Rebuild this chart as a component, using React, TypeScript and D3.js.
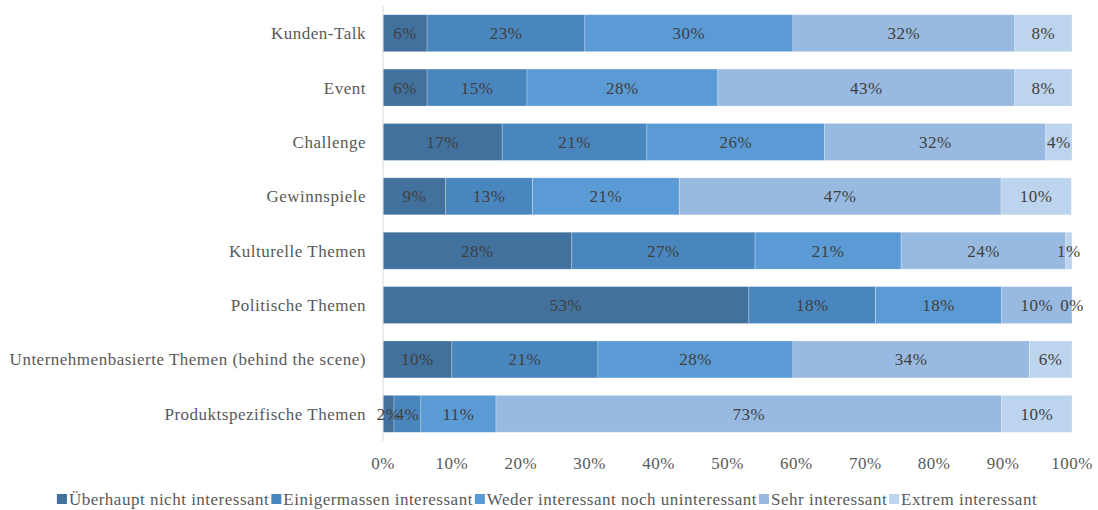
import React, { useEffect, useRef } from "react";
import * as d3 from "d3";

const categories = [
  "Kunden-Talk",
  "Event",
  "Challenge",
  "Gewinnspiele",
  "Kulturelle Themen",
  "Politische Themen",
  "Unternehmenbasierte Themen (behind the scene)",
  "Produktspezifische Themen",
];

const seriesNames = [
  "Überhaupt nicht interessant",
  "Einigermassen interessant",
  "Weder interessant noch uninteressant",
  "Sehr interessant",
  "Extrem interessant",
];

const ueberhauptNicht = [6.4, 6.4, 17.3, 9.1, 27.4, 53.1, 10.0, 1.6];
const einigermassen = [22.9, 14.5, 21.0, 12.6, 26.6, 18.4, 21.2, 3.9];
const weder = [30.2, 27.7, 25.8, 21.3, 21.2, 18.3, 28.3, 10.9];
const sehr = [32.2, 43.1, 32.1, 46.7, 23.9, 10.2, 34.3, 73.4];
const extrem = [8.3, 8.3, 3.8, 10.2, 0.9, 0.0, 6.2, 10.2];

const labelsUeberhaupt = ["6%", "6%", "17%", "9%", "28%", "53%", "10%", "2%"];
const labelsEinigermassen = ["23%", "15%", "21%", "13%", "27%", "18%", "21%", "4%"];
const labelsWeder = ["30%", "28%", "26%", "21%", "21%", "18%", "28%", "11%"];
const labelsSehr = ["32%", "43%", "32%", "47%", "24%", "10%", "34%", "73%"];
const labelsExtrem = ["8%", "8%", "4%", "10%", "1%", "0%", "6%", "10%"];

const tickValues = [0, 10, 20, 30, 40, 50, 60, 70, 80, 90, 100];

const colors = ["#41719C", "#4A86BE", "#5B9BD5", "#98BAE0", "#BDD4EE"];

export default function App() {
  const ref = useRef<SVGSVGElement>(null);

  useEffect(() => {
    const svg = d3.select(ref.current);
    svg.selectAll("*").remove();
    const left = 383, right = 1072, top = 6, bottom = 441;
    const font = "'Liberation Serif', 'Times New Roman', serif";
    const textColor = "#595959";
    const fs = 17;
    const ls = 0.5;

    const seriesValues = [ueberhauptNicht, einigermassen, weder, sehr, extrem];
    const seriesLabels = [labelsUeberhaupt, labelsEinigermassen, labelsWeder, labelsSehr, labelsExtrem];

    const x = d3.scaleLinear().domain([0, 100]).range([left, right]);
    const y = d3.scaleBand<string>().domain(categories).range([top, bottom]).paddingInner(0.32).paddingOuter(0.16);

    const table = categories.map((c, i) => {
      const row: any = { cat: c };
      seriesNames.forEach((s, j) => (row[s] = seriesValues[j][i]));
      return row;
    });
    const stacked = d3.stack<any>().keys(seriesNames)(table);

    const g = svg.append("g");
    stacked.forEach((layer, j) => {
      g.append("g")
        .selectAll("rect")
        .data(layer)
        .join("rect")
        .attr("x", (d) => x(d[0]))
        .attr("y", (d: any) => y(d.data.cat)!)
        .attr("width", (d) => Math.max(0, x(d[1]) - x(d[0])))
        .attr("height", y.bandwidth())
        .attr("fill", colors[j])
        .attr("stroke", "rgba(255,255,255,0.35)")
        .attr("stroke-width", 0.75);
    });

    g.append("line")
      .attr("x1", left).attr("x2", left)
      .attr("y1", top).attr("y2", bottom)
      .attr("stroke", "#D9D9D9").attr("stroke-width", 1);

    stacked.forEach((layer, j) => {
      g.append("g")
        .selectAll("text")
        .data(layer)
        .join("text")
        .attr("x", (d) => (x(d[0]) + x(d[1])) / 2)
        .attr("y", (d: any) => y(d.data.cat)! + y.bandwidth() / 2)
        .attr("dy", "0.35em")
        .attr("text-anchor", "middle")
        .attr("font-family", font)
        .attr("font-size", fs)
        .attr("letter-spacing", ls)
        .attr("fill", "#404040")
        .text((d, i) => seriesLabels[j][i]);
    });

    g.append("g")
      .selectAll("text")
      .data(categories)
      .join("text")
      .attr("x", left - 17)
      .attr("y", (d) => y(d)! + y.bandwidth() / 2)
      .attr("dy", "0.35em")
      .attr("text-anchor", "end")
      .attr("font-family", font)
      .attr("font-size", fs)
      .attr("letter-spacing", ls)
      .attr("fill", textColor)
      .text((d) => d);

    g.append("g")
      .selectAll("text")
      .data(tickValues)
      .join("text")
      .attr("x", (d) => x(d))
      .attr("y", 463)
      .attr("dy", "0.35em")
      .attr("text-anchor", "middle")
      .attr("font-family", font)
      .attr("font-size", fs)
      .attr("letter-spacing", ls)
      .attr("fill", textColor)
      .text((d) => d + "%");

    const lgd = svg.append("g");
    const items = lgd.selectAll("g").data(seriesNames).join("g");
    items.append("rect").attr("y", 0).attr("width", 10).attr("height", 10).attr("fill", (d, i) => colors[i]);
    const texts = items.append("text")
      .attr("x", 12)
      .attr("y", 5)
      .attr("dy", "0.35em")
      .attr("font-family", font)
      .attr("font-size", fs)
      .attr("letter-spacing", ls)
      .attr("fill", textColor)
      .text((d) => d);
    const widths: number[] = [];
    texts.each(function () { widths.push((this as SVGTextElement).getComputedTextLength()); });
    const gap = 2;
    const itemW = widths.map((w) => 12 + w);
    const total = d3.sum(itemW) + gap * (itemW.length - 1);
    const startX = 547 - total / 2;
    items.attr("transform", (d, i) => {
      const px = startX + d3.sum(itemW.slice(0, i)) + gap * i;
      return `translate(${px},${494})`;
    });
  }, []);

  return <svg ref={ref} width={1098} height={510} style={{ display: "block", position: "absolute", left: 0, top: 0 }} />;
}
